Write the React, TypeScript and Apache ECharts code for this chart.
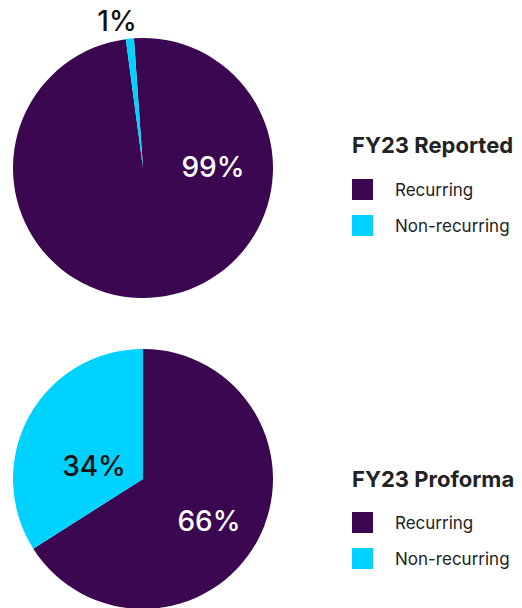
import React, { useEffect, useRef } from "react";
import * as echarts from "echarts";

const categories = ["Recurring", "Non-recurring"];
const reportedValues = [99, 1];
const proformaValues = [66, 34];
const chartTitles = ["FY23 Reported", "FY23 Proforma"];

const PURPLE = "#3a0750";
const CYAN = "#00d2ff";
const FONT = "Inter, 'Noto Sans', sans-serif";

// label anchor positions (layout only)
const labelPos: Record<string, [number, number]> = {
  "0-0": [213, 167],
  "0-1": [117, 21],
  "1-0": [209, 521],
  "1-1": [94, 466],
};

export default function App() {
  const ref = useRef<HTMLDivElement>(null);
  useEffect(() => {
    document.body.style.margin = "0";
    const chart = echarts.init(ref.current!, null, { renderer: "svg" });
    const mkData = (vals: number[]) =>
      categories.map((c, i) => ({
        name: c,
        value: vals[i],
        itemStyle: { color: i === 0 ? PURPLE : CYAN },
        label: { color: i === 0 ? "#ffffff" : "#111111" },
      }));
    const mkSeries = (vals: number[], idx: number, cy: number, start: number) => ({
      type: "pie",
      center: [143, cy],
      radius: 130,
      startAngle: start,
      clockwise: true,
      silent: true,
      data: mkData(vals),
      label: {
        show: true,
        position: "inside",
        formatter: "{c}%",
        fontFamily: FONT,
        fontSize: 28,
        fontWeight: 500,
      },
      labelLine: { show: false },
      labelLayout: (p: any) => {
        const pos = labelPos[`${idx}-${p.dataIndex}`];
        return { x: pos[0], y: pos[1], align: "center", verticalAlign: "middle" };
      },
      itemStyle: { borderWidth: 0 },
    });
    const mkLegend = (top: number) => ({
      orient: "vertical",
      left: 352,
      top,
      padding: 0,
      data: categories,
      icon: "rect",
      itemWidth: 21,
      itemHeight: 21,
      itemGap: 15,
      selectedMode: false,
      textStyle: {
        fontFamily: FONT,
        fontSize: 17,
        color: "#222",
        padding: [0, 0, 0, 17],
      },
    });
    const titleStyle = { fontFamily: FONT, fontSize: 22, fontWeight: "bold", color: "#222" };
    chart.setOption({
      animation: false,
      title: [
        { text: chartTitles[0], left: 347, top: 129, textStyle: titleStyle },
        { text: chartTitles[1], left: 347, top: 463, textStyle: titleStyle },
      ],
      legend: [mkLegend(179), mkLegend(512)],
      series: [
        mkSeries(reportedValues, 0, 168, 94),
        mkSeries(proformaValues, 1, 479, 90),
      ],
    });
    return () => chart.dispose();
  }, []);
  return <div ref={ref} style={{ width: 522, height: 608 }} />;
}
